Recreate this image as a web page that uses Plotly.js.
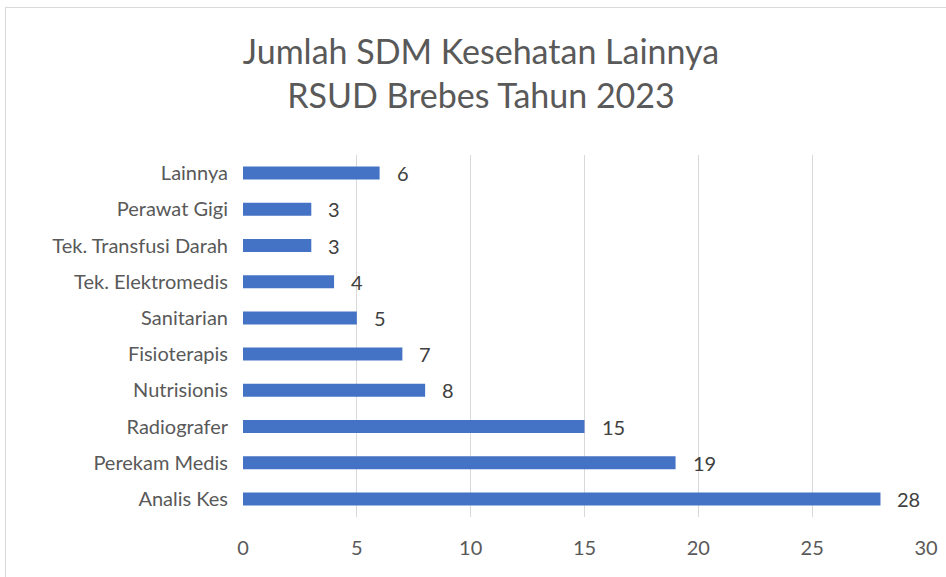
<!DOCTYPE html>
<html>
<head>
<meta charset="utf-8">
<script src="https://cdn.plot.ly/plotly-3.0.1.min.js"></script>
<style>
  html, body { margin: 0; padding: 0; background: #ffffff; }
  #wrap { position: relative; width: 946px; height: 577px; overflow: hidden; }
  #chart { position: absolute; left: 0; top: 0; width: 946px; height: 577px; }
  #frame { position: absolute; left: 5px; top: 7px; width: 960px; height: 600px;
           border: 1px solid #d9d9d9; box-sizing: border-box; pointer-events: none; }
</style>
</head>
<body>
<div id="wrap">
  <div id="chart"></div>
  <div id="frame"></div>
</div>
<script>
// Data (top-to-bottom order as shown)
var categories = ["Lainnya", "Perawat Gigi", "Tek. Transfusi Darah", "Tek. Elektromedis",
                  "Sanitarian", "Fisioterapis", "Nutrisionis", "Radiografer",
                  "Perekam Medis", "Analis Kes"];
var values = [6, 3, 3, 4, 5, 7, 8, 15, 19, 28];
var xTickValues = [0, 5, 10, 15, 20, 25, 30];
var titleLines = ["Jumlah SDM Kesehatan Lainnya", "RSUD Brebes Tahun 2023"];

var font = "Lato, 'Open Sans', sans-serif";

var trace = {
  type: "bar",
  orientation: "h",
  x: values,
  y: categories,
  marker: { color: "#4472C4" },
  hoverinfo: "x+y"
};

var annotations = values.map(function (v, i) {
  return {
    x: v, y: categories[i], xref: "x", yref: "y",
    text: String(v), showarrow: false,
    xanchor: "left", yanchor: "middle", xshift: 15,
    font: { family: font, size: 20, color: "#404040" }
  };
});

var layout = {
  width: 946, height: 577,
  paper_bgcolor: "#ffffff", plot_bgcolor: "#ffffff",
  margin: { l: 243, r: 20, t: 155, b: 60 },
  showlegend: false,
  bargap: 0.64,
  title: {
    text: titleLines.join("<br>"),
    font: { family: font, size: 34, color: "#595959" },
    x: 481 / 946, xanchor: "center", xref: "container",
    y: 1 - 64 / 577, yanchor: "top", yref: "container"
  },
  xaxis: {
    range: [0, 30],
    tickvals: xTickValues,
    ticktext: xTickValues.map(String),
    showgrid: true, gridcolor: "#d9d9d9", gridwidth: 1.3,
    zeroline: false, showline: false, ticks: "",
    ticklabelstandoff: 17,
    tickfont: { family: font, size: 20, color: "#595959" },
    fixedrange: true
  },
  yaxis: {
    autorange: "reversed",
    type: "category",
    showgrid: false, zeroline: false, showline: false, ticks: "",
    ticklabelstandoff: 14,
    tickfont: { family: font, size: 20, color: "#595959" },
    fixedrange: true
  },
  annotations: annotations
};

Plotly.newPlot("chart", [trace], layout, { displayModeBar: false, staticPlot: true });
</script>
</body>
</html>
